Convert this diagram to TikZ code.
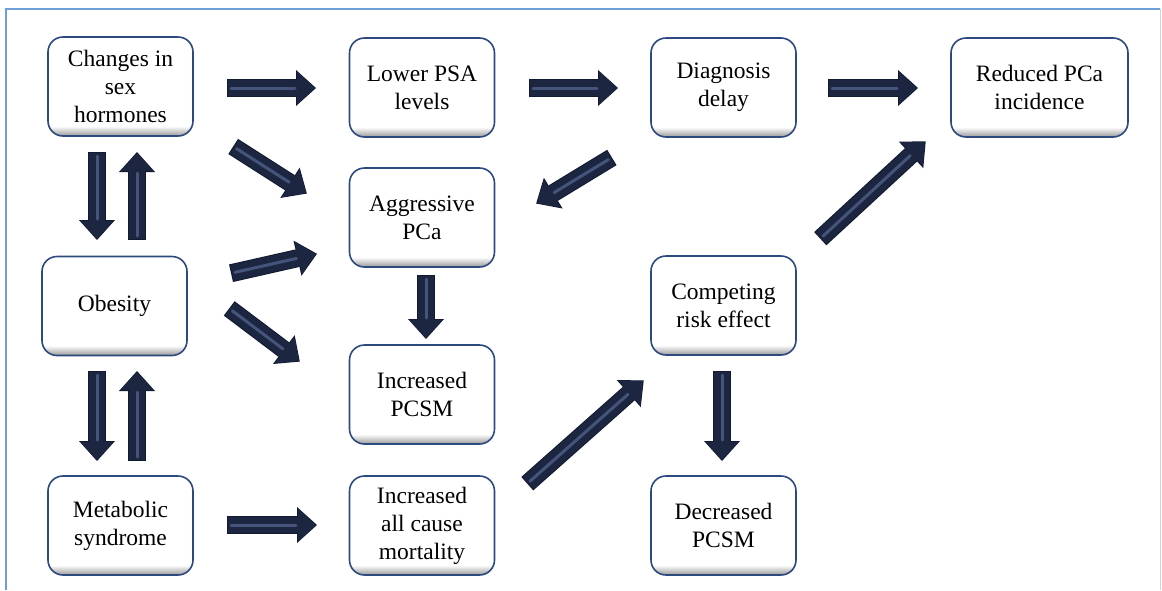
\documentclass[tikz,border=0pt]{standalone}
\usepackage{fontspec}
\setmainfont{Liberation Serif}
\usetikzlibrary{arrows.meta}
\definecolor{arrowcol}{HTML}{1C2640}
\definecolor{arrowedge}{HTML}{111A30}
\definecolor{stripecol}{HTML}{44547A}
\definecolor{boxborder}{HTML}{2D4A80}
\definecolor{framecol}{HTML}{6F9FD8}
\definecolor{framegray}{HTML}{D0D4DA}
\pgfdeclareverticalshading{boxshade}{100bp}{color(0bp)=(black!40); color(25bp)=(black!40); color(30bp)=(white); color(100bp)=(white)}
\tikzset{
  box/.style={shape=rectangle, rounded corners=15pt, draw=boxborder, line width=1.6pt,
    shade, shading=boxshade, minimum width=145pt, minimum height=99pt,
    align=center, inner sep=2pt, font=\fontsize{23.5}{28}\selectfont, text=black},
  blk/.style={line width=16pt, draw=arrowcol,
    -{Triangle[width=33pt,length=18pt,line width=0pt]}},
  blkedge/.style={line width=18pt, draw=arrowedge,
    -{Triangle[width=36pt,length=20pt,line width=0pt]}},
  stripe/.style={line width=3pt, draw=stripecol, line cap=round, shorten >=20pt, shorten <=3pt},
}
\begin{document}
\begin{tikzpicture}[x=1pt,y=-1pt]
\useasboundingbox (0,0) rectangle (1162,590);
% frame
\draw[framecol, line width=1.3pt] (6,590) -- (6,9) -- (1160,9);
\draw[framegray, line width=1pt] (1160,9) -- (1160,590);

% nodes
\node[box] (ch)   at (120.5,86.5) {Changes in\\sex\\hormones};
\node[box] (psa)  at (422,87.5) {Lower PSA\\levels};
\node[box] (diag) at (723.5,87.5) {Diagnosis\\delay};
\node[box, minimum width=177pt] (red) at (1039.5,87.5) {Reduced PCa\\incidence};
\node[box] (agg)  at (422,217.5) {Aggressive\\PCa};
\node[box] (ob)   at (114.5,306) {Obesity};
\node[box] (pcsm) at (422,394.5) {Increased\\PCSM};
\node[box] (comp) at (723.5,305.5) {Competing\\risk effect};
\node[box] (met)  at (120.5,525.5) {Metabolic\\syndrome};
\node[box] (acm)  at (422,525.5) {Increased\\all cause\\mortality};
\node[box] (dec)  at (723.5,525.5) {Decreased\\PCSM};

% arrow end coordinates
\coordinate (a1s) at (228,88);  \coordinate (a1e) at (315,88);
\coordinate (a2s) at (530,88);  \coordinate (a2e) at (617,88);
\coordinate (a3s) at (829,88);  \coordinate (a3e) at (917,88);
\coordinate (a4s) at (234,147); \coordinate (a4e) at (306,193);
\coordinate (a5s) at (611,158); \coordinate (a5e) at (537,203);
\coordinate (a6s) at (232,273); \coordinate (a6e) at (316,254);
\coordinate (a7s) at (230,309); \coordinate (a7e) at (299,361);
\coordinate (a8s) at (426,276); \coordinate (a8e) at (426,338);
\coordinate (a9s) at (97,153);  \coordinate (a9e) at (97,239);
\coordinate (a10s) at (137,239); \coordinate (a10e) at (137,153);
\coordinate (a11s) at (97,372);  \coordinate (a11e) at (97,460);
\coordinate (a12s) at (137,460); \coordinate (a12e) at (137,372);
\coordinate (a13s) at (228,525); \coordinate (a13e) at (316,525);
\coordinate (a14s) at (528,483); \coordinate (a14e) at (643,381);
\coordinate (a15s) at (722,372); \coordinate (a15e) at (722,460);
\coordinate (a16s) at (821,238); \coordinate (a16e) at (925,142);

\foreach \i in {1,...,16}{
  \draw[blkedge, shorten <=-1pt, shorten >=-1pt] (a\i s) -- (a\i e);
  \draw[blk] (a\i s) -- (a\i e);
  \draw[stripe] (a\i s) -- (a\i e);
}
\end{tikzpicture}
\end{document}
